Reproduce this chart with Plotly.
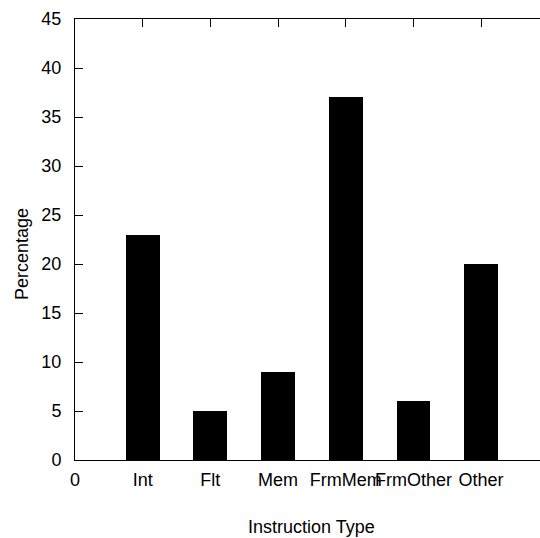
import plotly.graph_objects as go

categories = ["Int", "Flt", "Mem", "FrmMem", "FrmOther", "Other"]
positions = [1, 2, 3, 4, 5, 6]
values = [23, 5, 9, 37, 6, 20]
x_tick_vals = [0, 1, 2, 3, 4, 5, 6]
x_tick_text = ["0"] + categories
y_tick_vals = [0, 5, 10, 15, 20, 25, 30, 35, 40, 45]

FONT = "Liberation Sans, Arial, sans-serif"

fig = go.Figure()
fig.add_trace(go.Bar(x=positions, y=values, width=0.5,
                     marker=dict(color="black", line=dict(width=0)),
                     showlegend=False, hoverinfo="skip"))

fig.update_layout(
    width=540, height=538,
    margin=dict(l=75, r=0, t=19, b=78),
    paper_bgcolor="white", plot_bgcolor="white",
    font=dict(family=FONT, size=18, color="black"),
    bargap=0,
    xaxis=dict(range=[0, 6.87], tickvals=x_tick_vals, ticktext=x_tick_text,
               ticks="inside", ticklen=8, tickcolor="black", tickwidth=1,
               showline=True, linecolor="black", linewidth=1, mirror="allticks",
               showgrid=False, zeroline=False, ticklabelstandoff=3,
               tickangle=0, ticklabeloverflow="allow",
               tickfont=dict(size=18)),
    yaxis=dict(range=[0, 45], tickvals=y_tick_vals,
               ticks="inside", ticklen=8, tickcolor="black", tickwidth=1,
               showline=True, linecolor="black", linewidth=1, mirror=False,
               showgrid=False, zeroline=False, ticklabelstandoff=9,
               tickfont=dict(size=18)),
    annotations=[
        dict(text="Instruction Type", xref="paper", yref="paper",
             x=(311 - 75) / 465, y=-(527 - 460) / 441, showarrow=False,
             xanchor="center", yanchor="middle", font=dict(size=18)),
        dict(text="Percentage", xref="paper", yref="paper",
             x=-(75 - 22) / 465, y=(460 - 254) / 441, showarrow=False,
             textangle=-90, xanchor="center", yanchor="middle",
             font=dict(size=18)),
    ],
)

fig.write_html("out.html")
